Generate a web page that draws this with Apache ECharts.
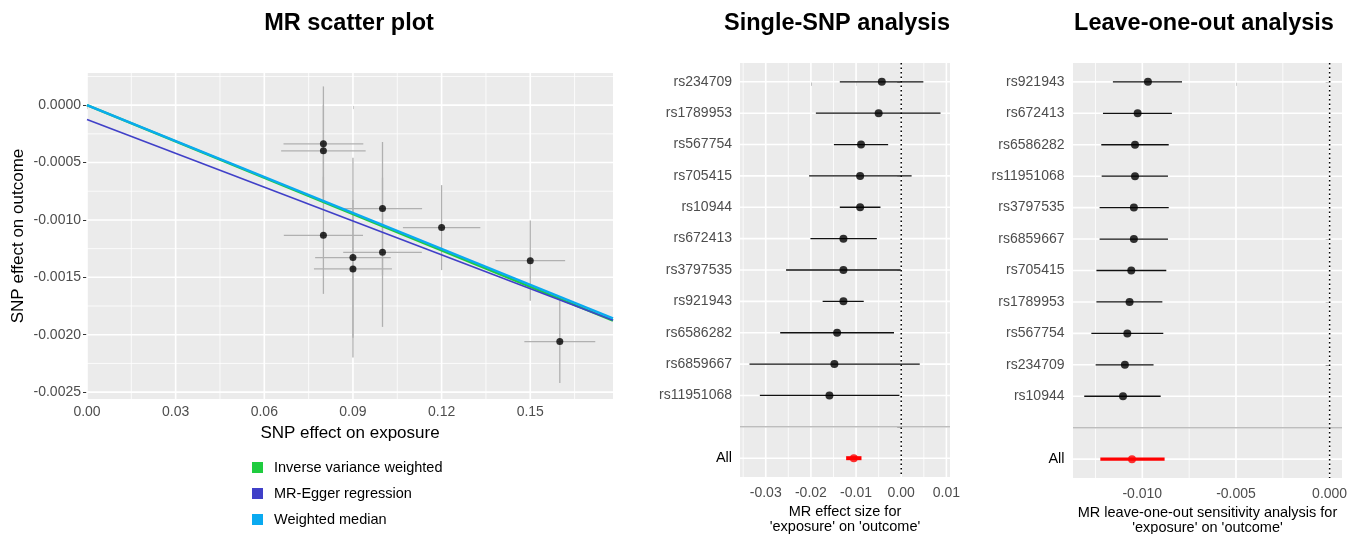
<!DOCTYPE html>
<html>
<head>
<meta charset="utf-8">
<title>MR plots</title>
<script src="https://cdn.jsdelivr.net/npm/echarts@6/dist/echarts.min.js"></script>
<style>
  html, body { margin: 0; padding: 0; background: #fff; }
  #main { width: 1359px; height: 534px; }
</style>
</head>
<body>
<div id="main"></div>
<script>
// scatter plot: SNP effect on exposure / outcome (with standard errors)
var bxExp  = [0.08, 0.08, 0.08, 0.09, 0.09, 0.10, 0.10, 0.12, 0.15, 0.16];
var seExp  = [0.0135, 0.0143, 0.0134, 0.0128, 0.0132, 0.0134, 0.0133, 0.0131, 0.0118, 0.0120];
var byOut  = [-0.000337, -0.000398, -0.001134, -0.001328, -0.001427, -0.000901, -0.001282, -0.001067, -0.001355, -0.00206];
var seOut  = [0.0005, 0.0004, 0.00051, 0.00087, 0.0006, 0.00058, 0.00065, 0.00037, 0.00035, 0.00036];

// MR methods (lines)
var methodNames = ['Inverse variance weighted', 'MR-Egger regression', 'Weighted median'];
var methodSlope = [-0.01055, -0.00982, -0.01044];
var methodIntercept = [0, -0.000125, 0];

// single SNP analysis (top to bottom, blank row before "All")
var snpSingle = ['rs234709', 'rs1789953', 'rs567754', 'rs705415', 'rs10944', 'rs672413', 'rs3797535',
                 'rs921943', 'rs6586282', 'rs6859667', 'rs11951068', '', 'All'];
var bSingle  = [-0.0043, -0.0050, -0.0089, -0.0091, -0.0091, -0.0128, -0.0128, -0.0128, -0.0142, -0.0148, -0.0159, null, -0.0105];
var loSingle = [-0.0136, -0.0189, -0.0149, -0.0204, -0.0136, -0.0201, -0.0255, -0.0174, -0.0268, -0.0336, -0.0313, null, -0.0122];
var hiSingle = [0.0049, 0.0087, -0.0029, 0.0023, -0.0046, -0.0054, -0.0001, -0.0083, -0.0016, 0.0041, -0.0004, null, -0.0088];

// leave-one-out analysis
var snpLoo = ['rs921943', 'rs672413', 'rs6586282', 'rs11951068', 'rs3797535', 'rs6859667', 'rs705415',
              'rs1789953', 'rs567754', 'rs234709', 'rs10944', '', 'All'];
var bLoo  = [-0.0097, -0.01025, -0.01039, -0.01039, -0.01045, -0.01045, -0.01059, -0.01068, -0.0108, -0.01093, -0.01103, null, -0.01055];
var loLoo = [-0.01157, -0.0121, -0.01219, -0.01217, -0.01228, -0.01228, -0.01245, -0.01245, -0.01272, -0.01249, -0.0131, null, -0.01224];
var hiLoo = [-0.00788, -0.00842, -0.00859, -0.00863, -0.00859, -0.00863, -0.00872, -0.00893, -0.00888, -0.0094, -0.00902, null, -0.00881];

// tick labels and minor grid positions
var scatterXTicks = [0, 0.03, 0.06, 0.09, 0.12, 0.15];
var scatterXMinor = [0.015, 0.045, 0.075, 0.105, 0.135, 0.165];
var scatterYTicks = [0, -0.0005, -0.001, -0.0015, -0.002, -0.0025];
var scatterYMinor = [0.00025, -0.00025, -0.00075, -0.00125, -0.00175, -0.00225];
var singleTicks = [-0.03, -0.02, -0.01, 0, 0.01];
var singleMinor = [-0.035, -0.025, -0.015, -0.005, 0.005];
var looTicks = [-0.01, -0.005, 0];
var looMinor = [-0.0125, -0.0075, -0.0025];

var FONT = '"Liberation Sans", Arial, Helvetica, sans-serif';
var SX_MAX = 0.178;
var rowIdx = snpSingle.map(function (d, i) { return i; });
var sepRow = snpSingle.indexOf('');

var chart = echarts.init(document.getElementById('main'));

// grid lines drawn through the axes of one grid
function gridLines(gi, values, dir, width, color, z, dash) {
  return {
    type: 'custom', xAxisIndex: gi, yAxisIndex: gi, z: z, silent: true,
    data: values.map(function (v) { return dir === 'x' ? [v, 0] : [0, v]; }),
    encode: { x: 0, y: 1 },
    renderItem: function (params, api) {
      var cs = params.coordSys;
      var s = { stroke: color, lineWidth: width };
      if (dash) s.lineDash = dash;
      if (dir === 'x') {
        var px = api.coord([api.value(0), api.value(1)])[0];
        return { type: 'line', shape: { x1: px, y1: cs.y, x2: px, y2: cs.y + cs.height }, style: s };
      }
      var py = api.coord([api.value(0), api.value(1)])[1];
      return { type: 'line', shape: { x1: cs.x, y1: py, x2: cs.x + cs.width, y2: py }, style: s };
    }
  };
}

// horizontal CI bars of forest panels
function ciBars(gi, lo, hi) {
  var data = [];
  lo.forEach(function (l, i) { if (l !== null) data.push([l, hi[i], i]); });
  var last = lo.length - 1;
  return {
    type: 'custom', xAxisIndex: gi, yAxisIndex: gi, z: 3, silent: true,
    data: data, encode: { x: [0, 1], y: 2 },
    renderItem: function (params, api) {
      var row = api.value(2);
      var p1 = api.coord([api.value(0), row]);
      var p2 = api.coord([api.value(1), row]);
      var isAll = row === last;
      return {
        type: 'line', shape: { x1: p1[0], y1: p1[1], x2: p2[0], y2: p2[1] },
        style: { stroke: isAll ? '#ff0000' : '#111', lineWidth: isAll ? (gi === 1 ? 4 : 3.2) : 1.3 }
      };
    }
  };
}

function dots(gi, b) {
  var data = [];
  var last = b.length - 1;
  b.forEach(function (v, i) {
    if (v === null) return;
    data.push({ value: [v, i], itemStyle: { color: i === last ? '#ff0000' : '#000' } });
  });
  return { type: 'scatter', xAxisIndex: gi, yAxisIndex: gi, z: 5, symbolSize: 8, data: data, silent: true };
}

function forestY(gi, names, margin) {
  return {
    type: 'value', gridIndex: gi, inverse: true, min: -0.6, max: 12.6,
    axisLine: { show: false },
    splitLine: { show: false },
    axisTick: { show: true, customValues: rowIdx, length: 4, lineStyle: { color: '#333', width: 1 } },
    axisLabel: {
      customValues: rowIdx, margin: margin, color: '#4d4d4d', fontSize: 14, fontFamily: FONT,
      formatter: function (v) {
        var n = names[Math.round(v)];
        return n === 'All' ? '{all|All}' : n;
      },
      rich: { all: { color: '#000', fontSize: 14.5, fontFamily: FONT } }
    }
  };
}

function forestX(gi, min, max, ticks, digits, name) {
  return {
    type: 'value', gridIndex: gi, min: min, max: max,
    axisLine: { show: false },
    splitLine: { show: false },
    axisTick: { show: true, customValues: ticks, length: 4, lineStyle: { color: '#333', width: 1 } },
    axisLabel: {
      customValues: ticks, margin: 9, color: '#4d4d4d', fontSize: 14, fontFamily: FONT,
      formatter: function (v) { return v.toFixed(digits); }
    },
    name: name, nameLocation: 'middle', nameGap: 22,
    nameTextStyle: { color: '#000', fontSize: 14.5, fontFamily: FONT, lineHeight: 14.5 }
  };
}

var series = [];

// scatter panel background grid
series.push(gridLines(0, scatterXMinor, 'x', 0.8, '#fff', 1));
series.push(gridLines(0, scatterYMinor, 'y', 0.8, '#fff', 1));
series.push(gridLines(0, scatterXTicks, 'x', 1.6, '#fff', 1));
series.push(gridLines(0, scatterYTicks, 'y', 1.6, '#fff', 1));

// error bars
series.push({
  type: 'custom', xAxisIndex: 0, yAxisIndex: 0, z: 3, silent: true,
  data: bxExp.map(function (x, i) { return [x, byOut[i], seExp[i], seOut[i]]; }),
  encode: { x: 0, y: 1 },
  renderItem: function (params, api) {
    var x = api.value(0), y = api.value(1), sx = api.value(2), sy = api.value(3);
    var h1 = api.coord([x - sx, y]), h2 = api.coord([x + sx, y]);
    var v1 = api.coord([x, y - sy]), v2 = api.coord([x, y + sy]);
    var st = { stroke: '#b0b0b0', lineWidth: 1.3 };
    return {
      type: 'group', children: [
        { type: 'line', shape: { x1: h1[0], y1: h1[1], x2: h2[0], y2: h2[1] }, style: st },
        { type: 'line', shape: { x1: v1[0], y1: v1[1], x2: v2[0], y2: v2[1] }, style: st }
      ]
    };
  }
});
series.push({
  type: 'scatter', xAxisIndex: 0, yAxisIndex: 0, z: 4, symbolSize: 7, silent: true,
  itemStyle: { color: '#000' },
  data: bxExp.map(function (x, i) { return [x, byOut[i]]; })
});

var methodColors = ['#1fcc3f', '#4040c8', '#0aaaf0'];
var methodOrder = [1, 0, 2];
methodOrder.forEach(function (m) {
  series.push({
    type: 'line', name: methodNames[m], xAxisIndex: 0, yAxisIndex: 0, z: 6 + m,
    symbol: 'none', silent: true,
    lineStyle: { color: methodColors[m], width: m === 1 ? 1.6 : 2.4 },
    itemStyle: { color: methodColors[m] },
    data: [[0, methodIntercept[m]], [SX_MAX, methodIntercept[m] + methodSlope[m] * SX_MAX]]
  });
});

// single SNP panel
series.push(gridLines(1, singleMinor, 'x', 0.8, '#fff', 1));
series.push(gridLines(1, singleTicks, 'x', 1.6, '#fff', 1));
series.push(gridLines(1, rowIdx, 'y', 1.6, '#fff', 1));
series.push(gridLines(1, [sepRow], 'y', 1.6, '#bdbdbd', 2));
series.push(ciBars(1, loSingle, hiSingle));
series.push(dots(1, bSingle));
series.push(gridLines(1, [0], 'x', 1.5, '#000', 6, [1.5, 3]));

// leave-one-out panel
series.push(gridLines(2, looMinor, 'x', 0.8, '#fff', 1));
series.push(gridLines(2, looTicks, 'x', 1.6, '#fff', 1));
series.push(gridLines(2, rowIdx, 'y', 1.6, '#fff', 1));
series.push(gridLines(2, [sepRow], 'y', 1.6, '#bdbdbd', 2));
series.push(ciBars(2, loLoo, hiLoo));
series.push(dots(2, bLoo));
series.push(gridLines(2, [0], 'x', 1.5, '#000', 6, [1.5, 3]));

var titleStyle = { fontSize: 23.5, fontWeight: 'bold', color: '#000', fontFamily: FONT };

var option = {
  animation: false,
  backgroundColor: '#fff',
  textStyle: { fontFamily: FONT },
  title: [
    { text: 'MR scatter plot', left: 349, top: 12, textAlign: 'center', padding: 0, textStyle: titleStyle },
    { text: 'Single-SNP analysis', left: 837, top: 12, textAlign: 'center', padding: 0, textStyle: titleStyle },
    { text: 'Leave-one-out analysis', left: 1204, top: 12, textAlign: 'center', padding: 0, textStyle: titleStyle }
  ],
  legend: {
    data: methodNames, orient: 'vertical', left: 252, top: 460, padding: 0,
    icon: 'rect', itemWidth: 11, itemHeight: 11, itemGap: 11,
    selectedMode: false,
    textStyle: { color: '#000', fontSize: 14.5, fontFamily: FONT, padding: [0, 0, 0, 6] }
  },
  grid: [
    { left: 87, top: 73, width: 526, height: 326, show: true, backgroundColor: '#ebebeb', borderWidth: 0, outerBoundsMode: 'none' },
    { left: 740, top: 63, width: 210, height: 414, show: true, backgroundColor: '#ebebeb', borderWidth: 0, outerBoundsMode: 'none' },
    { left: 1073, top: 63, width: 269, height: 415, show: true, backgroundColor: '#ebebeb', borderWidth: 0, outerBoundsMode: 'none' }
  ],
  xAxis: [
    {
      type: 'value', gridIndex: 0, min: 0, max: SX_MAX,
      axisLine: { show: false }, splitLine: { show: false },
      axisTick: { show: true, customValues: scatterXTicks, length: 4, lineStyle: { color: '#333' } },
      axisLabel: { customValues: scatterXTicks, margin: 6, color: '#4d4d4d', fontSize: 14, fontFamily: FONT,
        formatter: function (v) { return v.toFixed(2); } },
      name: 'SNP effect on exposure', nameLocation: 'middle', nameGap: 26,
      nameTextStyle: { color: '#000', fontSize: 17, fontFamily: FONT }
    },
    forestX(1, -0.0357, 0.0108, singleTicks, 2, "MR effect size for\n'exposure' on 'outcome'"),
    forestX(2, -0.0137, 0.00066, looTicks, 3, "MR leave-one-out sensitivity analysis for\n'exposure' on 'outcome'")
  ],
  yAxis: [
    {
      type: 'value', gridIndex: 0, min: -0.00256, max: 0.00028,
      axisLine: { show: false }, splitLine: { show: false },
      axisTick: { show: true, customValues: scatterYTicks, length: 4, lineStyle: { color: '#333' } },
      axisLabel: { customValues: scatterYTicks, margin: 6, color: '#4d4d4d', fontSize: 14, fontFamily: FONT,
        formatter: function (v) { return v.toFixed(4); } },
      name: 'SNP effect on outcome', nameLocation: 'middle', nameRotate: 90, nameGap: 60,
      nameTextStyle: { color: '#000', fontSize: 17, fontFamily: FONT }
    },
    forestY(1, snpSingle, 8),
    forestY(2, snpLoo, 8.5)
  ],
  series: series
};

chart.setOption(option);
</script>
</body>
</html>
